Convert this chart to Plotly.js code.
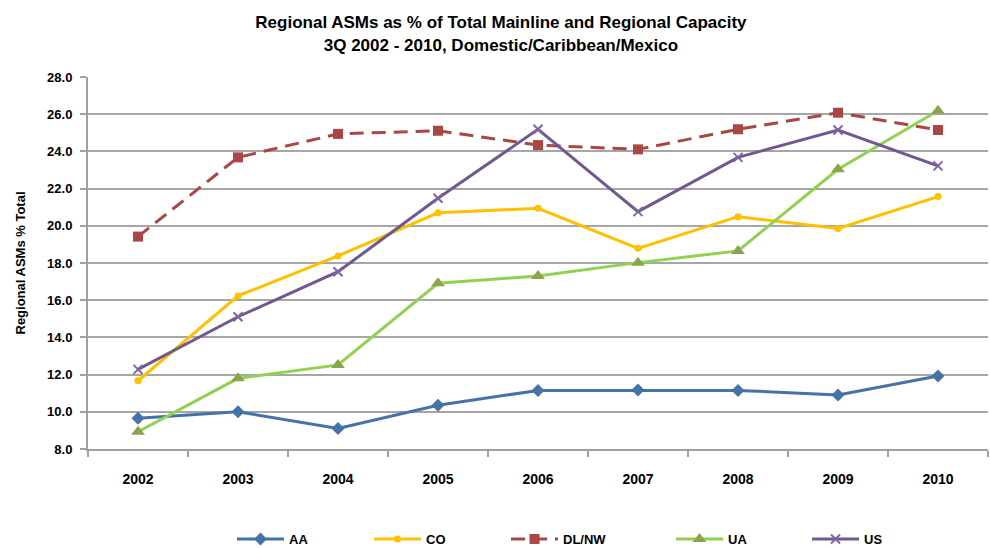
<!DOCTYPE html>
<html>
<head>
<meta charset="utf-8">
<script src="https://cdn.plot.ly/plotly-3.0.1.min.js"></script>
<style>html,body{margin:0;padding:0;background:#fff;}#chart{width:990px;height:548px;}</style>
</head>
<body>
<div id="chart"></div>
<script>
const years = ["2002","2003","2004","2005","2006","2007","2008","2009","2010"];
const seriesNames = ["AA","CO","DL/NW","UA","US"];
const aa   = [9.65, 10.0, 9.1, 10.35, 11.15, 11.17, 11.15, 10.9, 11.92];
const co   = [11.67, 16.23, 18.38, 20.7, 20.94, 18.79, 20.49, 19.86, 21.57];
const dlnw = [19.42, 23.68, 24.94, 25.11, 24.34, 24.11, 25.19, 26.08, 25.15];
const ua   = [8.93, 11.8, 12.52, 16.91, 17.3, 18.02, 18.65, 23.04, 26.19];
const us   = [12.28, 15.11, 17.53, 21.48, 25.19, 20.76, 23.68, 25.15, 23.22];
const yTicks = [8,10,12,14,16,18,20,22,24,26,28];
const yTickText = yTicks.map(v => v.toFixed(1));

const FONT = "Liberation Sans, Arial, sans-serif";
const legendIds = ["legend","legend2","legend3","legend4","legend5"];
const legendStartPx = [238, 375, 512, 677, 813];

const traces = [
  {name: seriesNames[0], y: aa, line:{color:"#4572A7", width:3}, marker:{symbol:"diamond", size:10, color:"#4572A7"}},
  {name: seriesNames[1], y: co, line:{color:"#FFC000", width:3}, marker:{symbol:"circle", size:7, color:"#FFC000"}},
  {name: seriesNames[2], y: dlnw, line:{color:"#AA4643", width:3, dash:"14px,8px"}, marker:{symbol:"square", size:10, color:"#AA4643"}},
  {name: seriesNames[3], y: ua, line:{color:"#92D050", width:3}, marker:{symbol:"triangle-up", size:12, color:"#89A54E"}},
  {name: seriesNames[4], y: us, line:{color:"#71588F", width:3}, marker:{symbol:"x-thin-open", size:9, color:"#8064A2", line:{width:2, color:"#8064A2"}}}
].map((t, i) => Object.assign({type:"scatter", mode:"lines+markers", x: years, legend: legendIds[i]}, t));

const layout = {
  width: 990, height: 548,
  margin: {l: 88, r: 2, t: 77, b: 99},
  paper_bgcolor: "#ffffff", plot_bgcolor: "#ffffff",
  font: {family: FONT, color: "#000", size: 12},
  title: {
    text: "<b>Regional ASMs as % of Total Mainline and Regional Capacity<br>3Q 2002 - 2010, Domestic/Caribbean/Mexico</b>",
    font: {family: FONT, size: 17, color: "#000"},
    x: 0.506, xanchor: "center", xref: "container",
    y: 0.948, yanchor: "middle", yref: "container"
  },
  xaxis: {
    type: "category",
    range: [-0.5, 8.5],
    tickson: "boundaries",
    ticks: "outside", ticklen: 6, tickwidth: 2, tickcolor: "#A0A0A0",
    showline: true, linecolor: "#A0A0A0", linewidth: 2,
    showgrid: false, zeroline: false,
    tickfont: {family: FONT, size: 14, color: "#000", weight: "bold"},
    ticklabelstandoff: 16
  },
  yaxis: {
    range: [8, 28],
    tickvals: yTicks, ticktext: yTickText,
    ticks: "outside", ticklen: 6, tickwidth: 2, tickcolor: "#A0A0A0",
    showline: true, linecolor: "#A0A0A0", linewidth: 2,
    showgrid: true, gridcolor: "#A6A6A6", gridwidth: 2,
    zeroline: false,
    tickfont: {family: FONT, size: 13, color: "#000", weight: "bold"},
    ticklabelstandoff: 5,
    title: {text: "<b>Regional ASMs % Total</b>", font: {family: FONT, size: 13, color: "#000"}, standoff: 19}
  },
  showlegend: true
};

legendIds.forEach((id, i) => {
  layout[id] = {
    orientation: "h",
    x: (legendStartPx[i] - 6) / 990, xanchor: "left", xref: "container",
    y: 1 - 539 / 548, yanchor: "middle", yref: "container",
    font: {family: FONT, size: 13, color: "#000", weight: "bold"},
    itemwidth: 47,
    bgcolor: "rgba(0,0,0,0)"
  };
});

Plotly.newPlot("chart", traces, layout, {displayModeBar: false, staticPlot: true});
</script>
</body>
</html>
